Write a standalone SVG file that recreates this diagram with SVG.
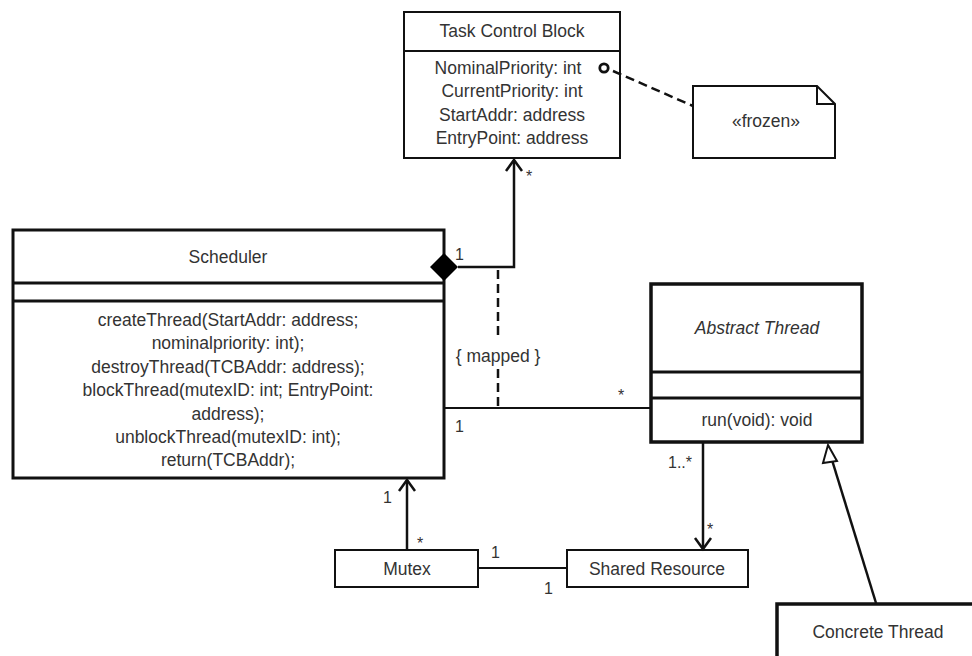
<svg xmlns="http://www.w3.org/2000/svg" width="972" height="656" viewBox="0 0 972 656">
<style>
text{font-family:"Liberation Sans",Arial,sans-serif;font-size:17.5px;fill:#333;text-anchor:middle}
.m{font-size:16px;text-anchor:start}
.box{fill:#fff;stroke:#111;stroke-width:2}
.thick{fill:#fff;stroke:#111;stroke-width:3.5}
.ln{fill:none;stroke:#111;stroke-width:2.5}
.dash{fill:none;stroke:#111;stroke-width:2.5;stroke-dasharray:9 5}
</style>
<rect width="972" height="656" fill="#fff"/>
<g id="tcb">
<rect class="box" x="404" y="12" width="216" height="146"/>
<line class="ln" x1="404" y1="51" x2="620" y2="51" style="stroke-width:2"/>
<text x="512" y="37">Task Control Block</text>
<text x="508" y="74">NominalPriority: int</text>
<text x="512" y="97">CurrentPriority: int</text>
<text x="512" y="121">StartAddr: address</text>
<text x="512" y="144">EntryPoint: address</text>
</g>
<g id="note">
<path class="box" d="M693,86 L817,86 L835,104 L835,158 L693,158 Z"/>
<path class="ln" d="M817,86 L817,104 L835,104" style="stroke-width:2"/>
<text x="766" y="127">«frozen»</text>
</g>
<g id="scheduler">
<rect class="thick" x="13" y="230" width="431" height="248" style="stroke-width:3"/>
<line class="ln" x1="13" y1="283" x2="444" y2="283" style="stroke-width:3"/>
<line class="ln" x1="13" y1="301" x2="444" y2="301" style="stroke-width:3"/>
<text x="228" y="263">Scheduler</text>
<text x="228" y="326">createThread(StartAddr: address;</text>
<text x="228" y="349">nominalpriority: int);</text>
<text x="228" y="373">destroyThread(TCBAddr: address);</text>
<text x="228" y="396">blockThread(mutexID: int; EntryPoint:</text>
<text x="228" y="420">address);</text>
<text x="228" y="443">unblockThread(mutexID: int);</text>
<text x="228" y="466">return(TCBAddr);</text>
</g>
<g id="abstract-thread">
<rect class="thick" x="651" y="284" width="211" height="158"/>
<line class="ln" x1="651" y1="372" x2="862" y2="372" style="stroke-width:3"/>
<line class="ln" x1="651" y1="398" x2="862" y2="398" style="stroke-width:3"/>
<text x="757" y="334" font-style="italic">Abstract Thread</text>
<text x="757" y="426">run(void): void</text>
</g>
<g id="mutex">
<rect class="box" x="335" y="550" width="143" height="37"/>
<text x="407" y="575">Mutex</text>
</g>
<g id="shared-resource">
<rect class="box" x="567" y="550" width="181" height="37"/>
<text x="657" y="575">Shared Resource</text>
</g>
<g id="concrete-thread">
<rect class="thick" x="777" y="604" width="210" height="70"/>
<text x="878" y="638">Concrete Thread</text>
</g>
<g id="connectors">
<polyline class="ln" points="458,267 514,267 514,160"/>
<path d="M506,171 L514,160 L522,171" class="ln"/>
<polygon points="430,267 444,253 458,267 444,281" fill="#000"/>
<line class="dash" x1="498" y1="270" x2="498" y2="340"/>
<line class="dash" x1="498" y1="369" x2="498" y2="407"/>
<text x="498" y="362">{ mapped }</text>
<line class="ln" x1="444" y1="408" x2="650" y2="408" style="stroke-width:2"/>
<line class="ln" x1="703" y1="443" x2="703" y2="548"/>
<path d="M695,538 L703,549 L711,538" class="ln"/>
<line class="ln" x1="407" y1="550" x2="407" y2="480"/>
<path d="M399,491 L407,480 L415,491" class="ln"/>
<line class="ln" x1="478" y1="568" x2="567" y2="568" style="stroke-width:2"/>
<line class="ln" x1="876" y1="603" x2="832" y2="460"/>
<polygon points="828,445 837,461 823,463" fill="#fff" stroke="#111" stroke-width="2"/>
<line class="dash" x1="613" y1="71" x2="693" y2="106"/>
<circle cx="604" cy="68" r="4.2" fill="#fff" stroke="#111" stroke-width="2.8"/>
<text class="m" x="526" y="182">*</text>
<text class="m" x="455" y="260">1</text>
<text class="m" x="618" y="401">*</text>
<text class="m" x="455" y="432">1</text>
<text class="m" x="668" y="468">1..*</text>
<text class="m" x="707" y="535">*</text>
<text class="m" x="383" y="503">1</text>
<text class="m" x="417" y="549">*</text>
<text class="m" x="491" y="558">1</text>
<text class="m" x="544" y="594">1</text>
</g>
</svg>
